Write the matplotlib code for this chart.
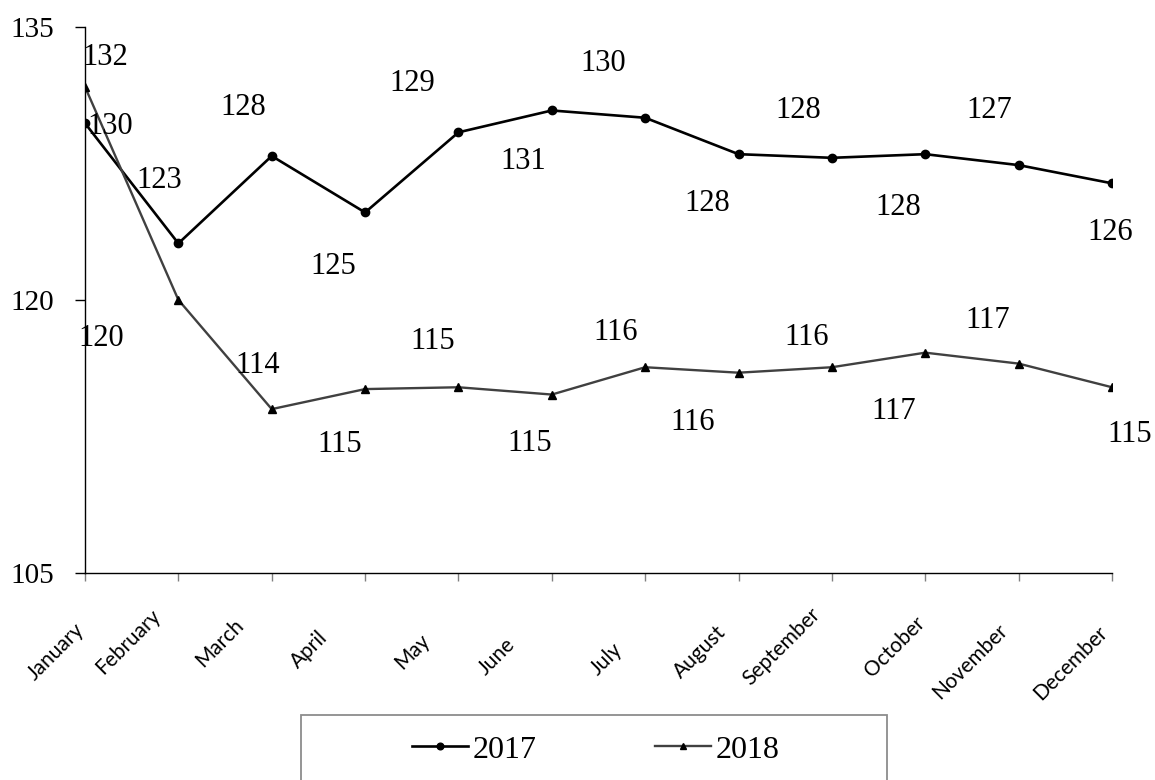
import matplotlib
matplotlib.use("Agg")
import matplotlib.pyplot as plt
from matplotlib.transforms import ScaledTranslation
from matplotlib.patches import Rectangle

# data
months = ["January", "February", "March", "April", "May", "June",
          "July", "August", "September", "October", "November", "December"]
v2017 = [129.7, 123.1, 127.9, 124.8, 129.2, 130.4, 130.0, 128.0, 127.8, 128.0, 127.4, 126.4]
v2018 = [131.7, 120.0, 114.0, 115.1, 115.2, 114.8, 116.3, 116.0, 116.3, 117.1, 116.5, 115.2]
lab2017 = ["130", "123", "128", "125", "129", "131", "130", "128", "128", "128", "127", "126"]
lab2018 = ["132", "120", "114", "115", "115", "115", "116", "116", "116", "117", "117", "115"]
yticks = [105, 120, 135]

# label offsets in pixels (x right, y down), as they sit in the picture
off2017 = [(25, 0), (-19, -66), (-28, -52), (-32, 51), (-46, -52), (-29, 48),
           (-42, -58), (-31, 46), (-34, -51), (-27, 50), (-29, -58), (-2, 46)]
off2018 = [(20, -33), (-77, 35), (-14, -47), (-25, 52), (-26, -49), (-22, 45),
           (-30, -38), (-46, 46), (-25, -33), (-32, 55), (-31, -47), (18, 44)]
# month label anchor shifts from the tick (pixels, x right, y down)
month_off = [(-4, 45), (-21, 31), (-31, 41), (-41, 53), (-32, 56), (-40, 60),
             (-26, 65), (-16, 48), (-15, 30), (-4, 38), (-14, 46), (-8, 48)]

serif = "Liberation Serif"

fig = plt.figure(figsize=(11.55, 7.8), dpi=100)
ax = fig.add_axes([0.07359, 0.26538, 0.88918, 0.70038])

x = list(range(len(months)))
ax.plot(x, v2017, color="black", lw=1.9, marker="o", ms=6, mfc="black", mec="black", label="2017")
ax.plot(x, v2018, color="#404040", lw=1.7, marker="^", ms=6, mfc="black", mec="black", label="2018")

for i in x:
    dx, dy = off2017[i]
    ax.annotate(lab2017[i], (i, v2017[i]), xytext=(dx, -dy - 11), textcoords="offset pixels",
                ha="center", va="baseline", fontsize=22, family=serif, annotation_clip=False)
    dx, dy = off2018[i]
    ax.annotate(lab2018[i], (i, v2018[i]), xytext=(dx, -dy - 11), textcoords="offset pixels",
                ha="center", va="baseline", fontsize=22, family=serif, annotation_clip=False)

ax.set_xlim(0, 11)
ax.set_ylim(105, 135)
ax.set_yticks(yticks)
ax.set_yticklabels([str(t) for t in yticks], family=serif, fontsize=21)
ax.tick_params(axis="y", direction="out", length=7, width=1, pad=15, color="black")
ax.set_xticks(x)
ax.tick_params(axis="x", direction="out", length=6, width=1, pad=0, color="#808080")
ax.set_xticklabels(months, rotation=45, ha="right", va="center", rotation_mode="anchor",
                   family="Lato", fontsize=15)
for lbl, (dx, dy) in zip(ax.get_xticklabels(), month_off):
    lbl.set_transform(lbl.get_transform() + ScaledTranslation(dx / 100, -dy / 100, fig.dpi_scale_trans))

for s in ["top", "right"]:
    ax.spines[s].set_visible(False)
ax.spines["left"].set_linewidth(1)
ax.spines["bottom"].set_linewidth(1)

# legend box (bottom edge runs off the figure)
fig.patches.append(Rectangle((301 / 1155, -0.05), 586 / 1155, 0.05 + 0.0833,
                             transform=fig.transFigure, fill=False, edgecolor="#8c8c8c", lw=1.3))
fig.legend(loc="center", bbox_to_anchor=(0.516, 0.0385), ncol=2, frameon=False,
           prop={"family": serif, "size": 23}, handlelength=1.75, handletextpad=0.15,
           columnspacing=3.7, markerscale=0.8)

fig.savefig("out.png", dpi=100)
